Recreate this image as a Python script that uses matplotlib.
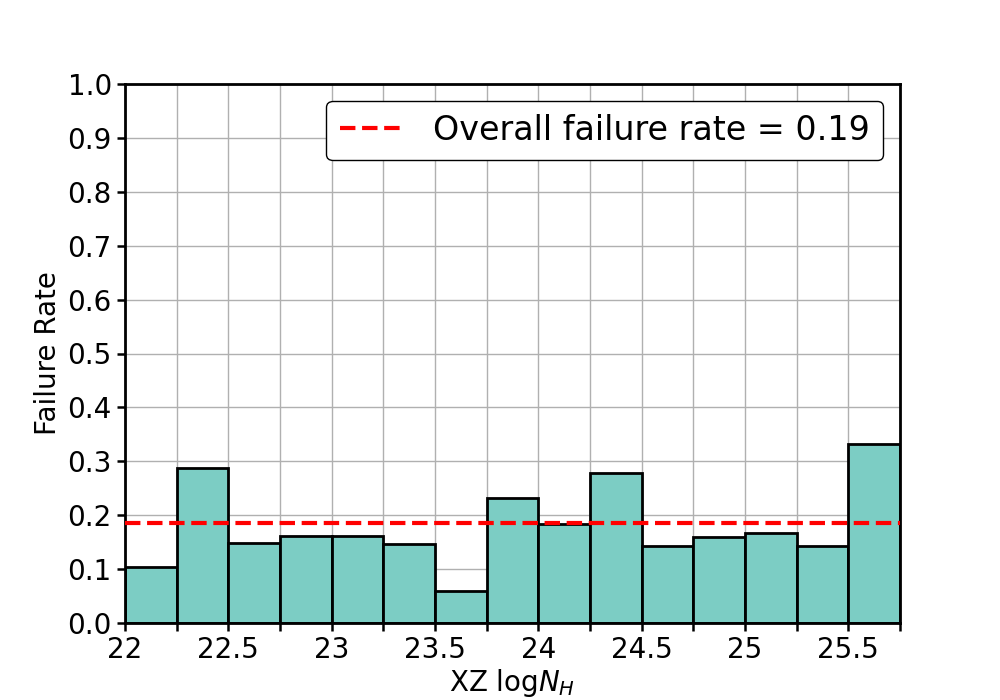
import numpy as np
import matplotlib.pyplot as plt

bin_edges = [22.0, 22.25, 22.5, 22.75, 23.0, 23.25, 23.5, 23.75,
             24.0, 24.25, 24.5, 24.75, 25.0, 25.25, 25.5, 25.75]
failure_rate = [0.104, 0.288, 0.148, 0.161, 0.161, 0.147, 0.059, 0.232,
                0.184, 0.279, 0.142, 0.160, 0.167, 0.142, 0.333]
overall_rate = 0.186

fig, ax = plt.subplots(figsize=(10, 7), dpi=100)

left = np.array(bin_edges[:-1])
widths = np.diff(bin_edges)
ax.bar(left, failure_rate, width=widths, align='edge',
       color='#7CCDC4', edgecolor='black', linewidth=2, zorder=2)
ax.axhline(overall_rate, color='red', linestyle='--', linewidth=3,
           label='Overall failure rate = %.2f' % overall_rate, zorder=3)

ax.set_xlim(bin_edges[0], bin_edges[-1])
ax.set_ylim(0, 1)
ax.set_xticks(bin_edges)
ax.set_xticklabels(['%g' % t if (t * 2) % 1 == 0 else '' for t in bin_edges])
ax.set_yticks(np.arange(0, 1.01, 0.1))
ax.tick_params(labelsize=20, width=1.8, length=6)
ax.grid(True, color='#b0b0b0', linewidth=1, zorder=0)
ax.set_axisbelow(True)
for s in ax.spines.values():
    s.set_linewidth(2)

ax.set_xlabel('XZ log$N_H$', fontsize=20, labelpad=2)
ax.set_ylabel('Failure Rate', fontsize=20)
ax.legend(loc='upper right', fontsize=24, edgecolor='black', framealpha=1)

fig.savefig('out.png', dpi=100)
